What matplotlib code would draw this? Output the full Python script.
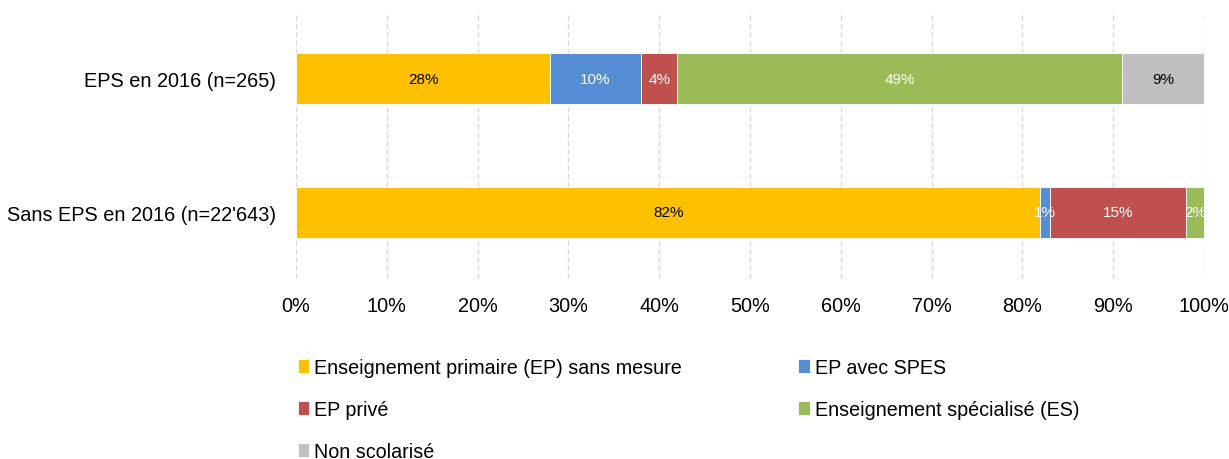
"""Scolarisation des élèves selon l'EPS en 2016"""
import matplotlib
matplotlib.use('Agg')
import matplotlib.pyplot as plt
from matplotlib.ticker import PercentFormatter

plt.rcParams['font.family'] = ['Liberation Sans Narrow', 'Liberation Sans', 'DejaVu Sans']

categories = ["EPS en 2016 (n=265)", "Sans EPS en 2016 (n=22'643)"]
series_names = [
    'Enseignement primaire (EP) sans mesure',
    'EP avec SPES',
    'EP privé',
    'Enseignement spécialisé (ES)',
    'Non scolarisé',
]
ep_sans_mesure = [28, 82]
ep_spes = [10, 1]
ep_prive = [4, 15]
es = [49, 2]
non_scolarise = [9, 0]

colors = ['#FFC000', '#558ED5', '#C0504D', '#9BBB59', '#BFBFBF']
# couleur du texte dans chaque segment
label_colors = ['black', 'white', 'white', 'white', 'black']

values = [ep_sans_mesure, ep_spes, ep_prive, es, non_scolarise]

fig = plt.figure(figsize=(12.29, 4.6), dpi=100)
ax = fig.add_axes([0.2408, 0.3913, 0.7388, 0.5804])

ypos = list(range(len(categories)))
left = [0] * len(categories)
handles = []
for name, vals, col, tcol in zip(series_names, values, colors, label_colors):
    bars = ax.barh(ypos, vals, left=left, height=0.385, color=col,
                   edgecolor='white', linewidth=0.6, label=name, zorder=2)
    handles.append(bars)
    for y, v, l in zip(ypos, vals, left):
        if v > 0:
            ax.text(l + v / 2, y, '{}%'.format(v), ha='center', va='center',
                    fontsize=11, color=tcol, zorder=3)
    left = [a + b for a, b in zip(left, vals)]

ax.set_xlim(0, 100)
ax.set_ylim(1.5, -0.5)
ax.set_xticks(range(0, 101, 10))
ax.xaxis.set_major_formatter(PercentFormatter(decimals=0))
ax.set_yticks(ypos)
ax.set_yticklabels(categories)
ax.tick_params(axis='both', length=0, labelsize=14.3)
ax.tick_params(axis='x', pad=12)
ax.tick_params(axis='y', pad=14)
ax.grid(axis='x', color='#D9D9D9', linestyle=(0, (4, 2)), linewidth=1, zorder=0)
for spine in ax.spines.values():
    spine.set_visible(False)

# ordre ligne par ligne sur deux colonnes
order = [0, 2, 4, 1, 3]
fig.legend([handles[i] for i in order], [series_names[i] for i in order],
           loc='upper left', bbox_to_anchor=(298 / 1229, 1 - 359 / 460),
           ncol=2, frameon=False, fontsize=14.2, borderpad=0, borderaxespad=0,
           handlelength=0.58, handleheight=0.7, handletextpad=0.25,
           labelspacing=1.17, columnspacing=5.9)

fig.savefig('out.png', dpi=100)
